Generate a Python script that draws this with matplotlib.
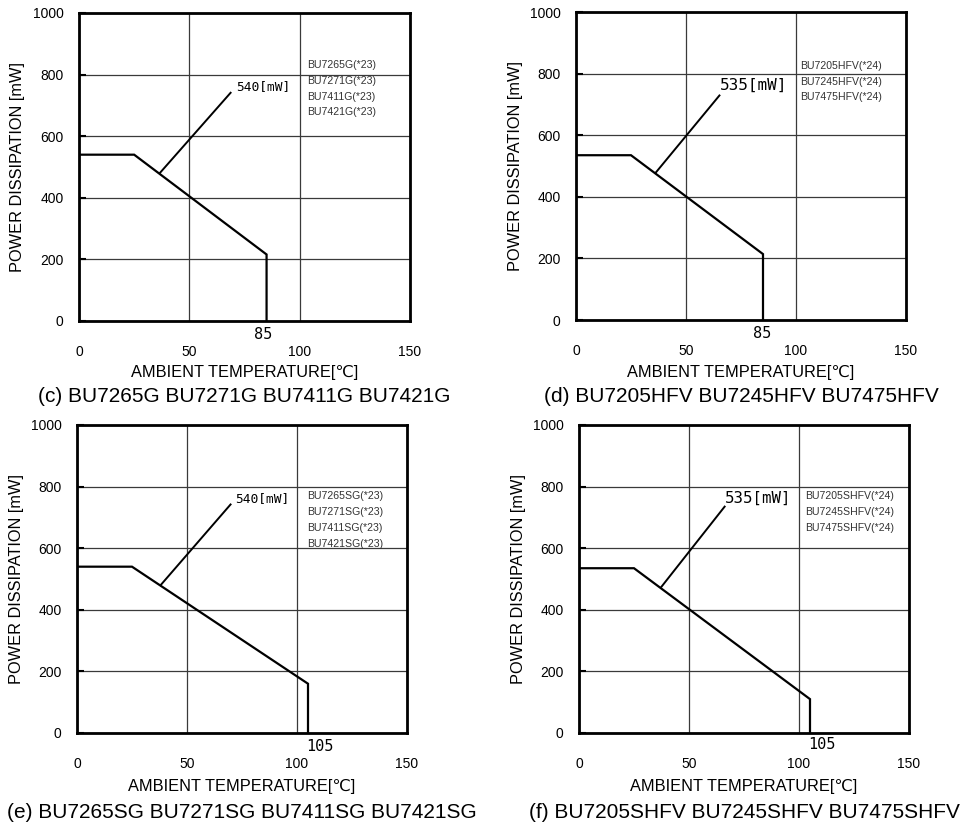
import matplotlib
matplotlib.use("Agg")
import matplotlib.pyplot as plt

plt.rcParams['font.family'] = ['Liberation Sans', 'DejaVu Sans']

# ---------------- data ----------------
panel_ids = ['c', 'd', 'e', 'f']
temps_c = [0, 25, 85, 85]
power_c = [540, 540, 216, 0]
temps_d = [0, 25, 85, 85]
power_d = [535, 535, 214, 0]
temps_e = [0, 25, 105, 105]
power_e = [540, 540, 160, 0]
temps_f = [0, 25, 105, 105]
power_f = [535, 535, 110, 0]

rated_labels = ['540[mW]', '535[mW]', '540[mW]', '535[mW]']
tmax_labels = ['85', '85', '105', '105']

legend_c = ['BU7265G(*23)', 'BU7271G(*23)', 'BU7411G(*23)', 'BU7421G(*23)']
legend_d = ['BU7205HFV(*24)', 'BU7245HFV(*24)', 'BU7475HFV(*24)']
legend_e = ['BU7265SG(*23)', 'BU7271SG(*23)', 'BU7411SG(*23)', 'BU7421SG(*23)']
legend_f = ['BU7205SHFV(*24)', 'BU7245SHFV(*24)', 'BU7475SHFV(*24)']

captions = ['(c) BU7265G BU7271G BU7411G BU7421G',
            '(d) BU7205HFV BU7245HFV BU7475HFV',
            '(e) BU7265SG BU7271SG BU7411SG BU7421SG',
            '(f) BU7205SHFV BU7245SHFV BU7475SHFV']

x_ticks = [0, 50, 100, 150]
y_ticks = [0, 200, 400, 600, 800, 1000]
x_label = 'AMBIENT TEMPERATURE[\u2103]'
y_label = 'POWER DISSIPATION [mW]'

# ---------------- layout (pixels) ----------------
W, H = 971, 824
layout = [
    # axes l, r, t, b ; ylabel x ; xlabel y ; caption y
    dict(box=(79, 410, 13, 321), ylab_x=18, xlab_y=373, cap_y=396,
         leader=((36.7, 481), (68.7, 741)), rated_pos=(71.0, 760), rated_fs=9.3,
         tmax_pos=(83.4, -45), tmax_ha='center',
         leg_x=103.6, leg_y0=830, leg_dy=51),
    dict(box=(576, 906, 12, 320), ylab_x=515, xlab_y=373, cap_y=396,
         leader=((36.3, 479), (65.2, 729)), rated_pos=(65.4, 762), rated_fs=11.5,
         tmax_pos=(84.6, -45), tmax_ha='center',
         leg_x=101.9, leg_y0=825, leg_dy=51),
    dict(box=(77, 407, 425, 733), ylab_x=17, xlab_y=786, cap_y=813,
         leader=((38.0, 480), (69.8, 742)), rated_pos=(71.8, 760), rated_fs=9.3,
         tmax_pos=(104.0, -45), tmax_ha='left',
         leg_x=104.6, leg_y0=769, leg_dy=51.5),
    dict(box=(579, 909, 425, 733), ylab_x=518, xlab_y=786, cap_y=813,
         leader=((37.5, 475), (66.2, 735)), rated_pos=(66.5, 762), rated_fs=11.3,
         tmax_pos=(104.0, -38), tmax_ha='left',
         leg_x=103.0, leg_y0=769, leg_dy=51),
]

series = [(temps_c, power_c, legend_c), (temps_d, power_d, legend_d),
          (temps_e, power_e, legend_e), (temps_f, power_f, legend_f)]

fig = plt.figure(figsize=(W / 100, H / 100), dpi=100)

for i, pid in enumerate(panel_ids):
    lay = layout[i]
    l, r, t, b = lay['box']
    ax = fig.add_axes([l / W, 1 - b / H, (r - l) / W, (b - t) / H])
    temps, power, legend = series[i]

    ax.set_xlim(0, 150)
    ax.set_ylim(0, 1000)
    ax.set_xticks(x_ticks)
    ax.set_yticks(y_ticks)
    ax.grid(True, color='#3a3a3a', linewidth=0.9)
    ax.set_axisbelow(True)
    for sp in ax.spines.values():
        sp.set_linewidth(2.0)
        sp.set_color('black')
    ax.tick_params(axis='y', direction='in', length=5, width=1.5, pad=11, labelsize=10)
    ax.tick_params(axis='x', direction='in', length=0, pad=17, labelsize=10)

    ax.plot(temps, power, color='black', linewidth=1.6, solid_joinstyle='miter', zorder=3)

    (x0, y0), (x1, y1) = lay['leader']
    ax.plot([x0, x1], [y0, y1], color='black', linewidth=1.4, zorder=3)
    ax.text(lay['rated_pos'][0], lay['rated_pos'][1], rated_labels[i],
            fontsize=lay['rated_fs'], family='DejaVu Sans Mono', va='center', ha='left')

    ax.text(lay['tmax_pos'][0], lay['tmax_pos'][1], tmax_labels[i],
            fontsize=11, family='DejaVu Sans Mono', va='center', ha=lay['tmax_ha'],
            clip_on=False)

    for k, name in enumerate(legend):
        ax.text(lay['leg_x'], lay['leg_y0'] - k * lay['leg_dy'], name,
                fontsize=7.6, color='#333333', va='center', ha='left')

    cx = (l + r) / 2
    fig.text(lay['ylab_x'] / W, 1 - ((t + b) / 2) / H, y_label, rotation=90,
             fontsize=11.8, ha='center', va='center')
    fig.text(cx / W, 1 - lay['xlab_y'] / H, x_label, fontsize=11.8,
             ha='center', va='center')
    fig.text(cx / W, 1 - lay['cap_y'] / H, captions[i], fontsize=15,
             ha='center', va='center')

fig.savefig('out.png', dpi=100)
